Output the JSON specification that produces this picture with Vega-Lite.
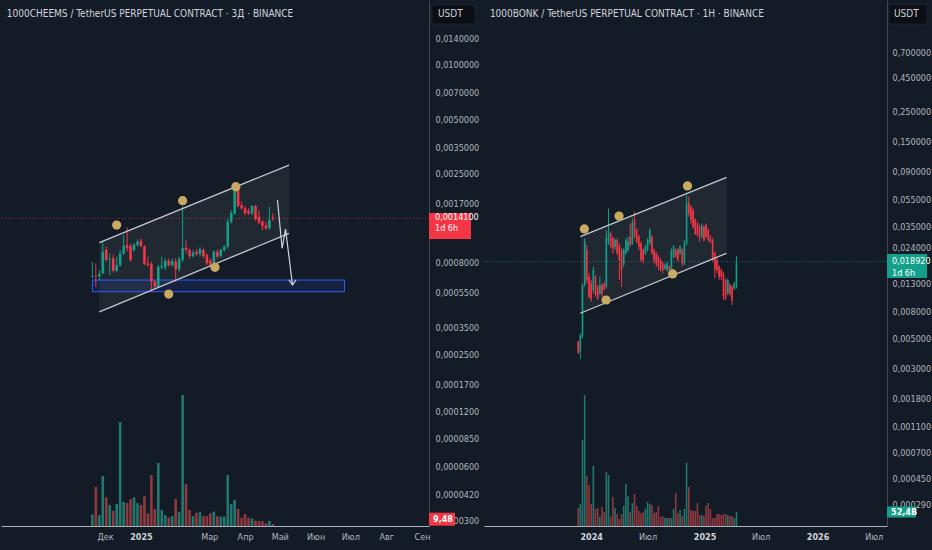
{
  "$schema": "https://vega.github.io/schema/vega-lite/v6.json",
  "background": "#131b26",
  "padding": 0,
  "spacing": 0,
  "config": {
    "view": {"stroke": null},
    "axis": {"labelColor": "#b2b5be", "labelFont": "Liberation Sans Narrow, DejaVu Sans Condensed, Roboto, sans-serif", "labelFontSize": 9, "grid": false, "ticks": false, "labelOverlap": false, "labelFlush": false}
  },
  "datasets": {
    "cheems": [
      {"date":"2024-11-20","o":0.000671,"h":0.000812,"l":0.000657,"c":0.000676,"v":55,"dir":"up"},
      {"date":"2024-11-23","o":0.000676,"h":0.000795,"l":0.000590,"c":0.000671,"v":185,"dir":"down"},
      {"date":"2024-11-26","o":0.000676,"h":0.000731,"l":0.000643,"c":0.000694,"v":52,"dir":"up"},
      {"date":"2024-11-29","o":0.000700,"h":0.001048,"l":0.000694,"c":0.000923,"v":237,"dir":"up"},
      {"date":"2024-12-02","o":0.000943,"h":0.000984,"l":0.000812,"c":0.000830,"v":136,"dir":"down"},
      {"date":"2024-12-05","o":0.000830,"h":0.000903,"l":0.000685,"c":0.000837,"v":100,"dir":"up"},
      {"date":"2024-12-08","o":0.000848,"h":0.000884,"l":0.000706,"c":0.000724,"v":71,"dir":"down"},
      {"date":"2024-12-11","o":0.000724,"h":0.000866,"l":0.000715,"c":0.000778,"v":104,"dir":"up"},
      {"date":"2024-12-14","o":0.000778,"h":0.000943,"l":0.000762,"c":0.000903,"v":493,"dir":"up"},
      {"date":"2024-12-17","o":0.000903,"h":0.001141,"l":0.000884,"c":0.000996,"v":114,"dir":"up"},
      {"date":"2024-12-20","o":0.001005,"h":0.001258,"l":0.000923,"c":0.000963,"v":109,"dir":"down"},
      {"date":"2024-12-23","o":0.000992,"h":0.001017,"l":0.000812,"c":0.000830,"v":127,"dir":"down"},
      {"date":"2024-12-26","o":0.000943,"h":0.001034,"l":0.000923,"c":0.001013,"v":136,"dir":"up"},
      {"date":"2024-12-29","o":0.001005,"h":0.001080,"l":0.000984,"c":0.001048,"v":108,"dir":"up"},
      {"date":"2025-01-01","o":0.001062,"h":0.001094,"l":0.000975,"c":0.000992,"v":100,"dir":"down"},
      {"date":"2025-01-04","o":0.000984,"h":0.001005,"l":0.000778,"c":0.000788,"v":142,"dir":"down"},
      {"date":"2025-01-07","o":0.000795,"h":0.000866,"l":0.000762,"c":0.000778,"v":60,"dir":"down"},
      {"date":"2025-01-10","o":0.000788,"h":0.000812,"l":0.000566,"c":0.000630,"v":242,"dir":"down"},
      {"date":"2025-01-13","o":0.000630,"h":0.000643,"l":0.000571,"c":0.000590,"v":81,"dir":"down"},
      {"date":"2025-01-16","o":0.000590,"h":0.000778,"l":0.000585,"c":0.000762,"v":299,"dir":"up"},
      {"date":"2025-01-19","o":0.000755,"h":0.000866,"l":0.000737,"c":0.000768,"v":76,"dir":"up"},
      {"date":"2025-01-22","o":0.000755,"h":0.000848,"l":0.000731,"c":0.000823,"v":52,"dir":"up"},
      {"date":"2025-01-25","o":0.000823,"h":0.000848,"l":0.000762,"c":0.000778,"v":41,"dir":"down"},
      {"date":"2025-01-28","o":0.000778,"h":0.000848,"l":0.000762,"c":0.000820,"v":47,"dir":"up"},
      {"date":"2025-01-31","o":0.000812,"h":0.000848,"l":0.000630,"c":0.000737,"v":128,"dir":"down"},
      {"date":"2025-02-03","o":0.000737,"h":0.000866,"l":0.000715,"c":0.000837,"v":68,"dir":"up"},
      {"date":"2025-02-06","o":0.000830,"h":0.001652,"l":0.000812,"c":0.000963,"v":621,"dir":"up"},
      {"date":"2025-02-09","o":0.000971,"h":0.001071,"l":0.000903,"c":0.000943,"v":199,"dir":"down"},
      {"date":"2025-02-12","o":0.000943,"h":0.000963,"l":0.000848,"c":0.000873,"v":76,"dir":"down"},
      {"date":"2025-02-15","o":0.000873,"h":0.000943,"l":0.000858,"c":0.000911,"v":47,"dir":"up"},
      {"date":"2025-02-18","o":0.000923,"h":0.000951,"l":0.000873,"c":0.000896,"v":63,"dir":"down"},
      {"date":"2025-02-21","o":0.000896,"h":0.000975,"l":0.000866,"c":0.000951,"v":66,"dir":"up"},
      {"date":"2025-02-24","o":0.000943,"h":0.000963,"l":0.000848,"c":0.000873,"v":47,"dir":"down"},
      {"date":"2025-02-27","o":0.000884,"h":0.000903,"l":0.000778,"c":0.000795,"v":47,"dir":"down"},
      {"date":"2025-03-02","o":0.000823,"h":0.000848,"l":0.000762,"c":0.000778,"v":60,"dir":"down"},
      {"date":"2025-03-05","o":0.000795,"h":0.000943,"l":0.000778,"c":0.000923,"v":68,"dir":"up"},
      {"date":"2025-03-08","o":0.000923,"h":0.000951,"l":0.000848,"c":0.000866,"v":47,"dir":"down"},
      {"date":"2025-03-11","o":0.000873,"h":0.000963,"l":0.000858,"c":0.000943,"v":44,"dir":"up"},
      {"date":"2025-03-14","o":0.000943,"h":0.001005,"l":0.000923,"c":0.000984,"v":45,"dir":"up"},
      {"date":"2025-03-17","o":0.000984,"h":0.001412,"l":0.000963,"c":0.001353,"v":242,"dir":"up"},
      {"date":"2025-03-20","o":0.001353,"h":0.001570,"l":0.001324,"c":0.001518,"v":104,"dir":"up"},
      {"date":"2025-03-23","o":0.001505,"h":0.002114,"l":0.001473,"c":0.002043,"v":123,"dir":"up"},
      {"date":"2025-03-26","o":0.002026,"h":0.002206,"l":0.001625,"c":0.001652,"v":81,"dir":"down"},
      {"date":"2025-03-29","o":0.001673,"h":0.001746,"l":0.001570,"c":0.001604,"v":39,"dir":"down"},
      {"date":"2025-04-01","o":0.001604,"h":0.001652,"l":0.001473,"c":0.001505,"v":57,"dir":"down"},
      {"date":"2025-04-04","o":0.001557,"h":0.001604,"l":0.001473,"c":0.001505,"v":39,"dir":"down"},
      {"date":"2025-04-07","o":0.001505,"h":0.001673,"l":0.001473,"c":0.001652,"v":36,"dir":"up"},
      {"date":"2025-04-10","o":0.001652,"h":0.001673,"l":0.001370,"c":0.001394,"v":25,"dir":"down"},
      {"date":"2025-04-13","o":0.001442,"h":0.001570,"l":0.001313,"c":0.001335,"v":24,"dir":"down"},
      {"date":"2025-04-16","o":0.001353,"h":0.001382,"l":0.001216,"c":0.001280,"v":24,"dir":"down"},
      {"date":"2025-04-19","o":0.001296,"h":0.001353,"l":0.001216,"c":0.001243,"v":13,"dir":"down"},
      {"date":"2025-04-22","o":0.001243,"h":0.001638,"l":0.001227,"c":0.001382,"v":24,"dir":"up"},
      {"date":"2025-04-25","o":0.001430,"h":0.001505,"l":0.001370,"c":0.001410,"v":9.48,"dir":"down"}
    ],
    "bonk": [
      {"date":"2023-11-20","o":0.00477,"h":0.00485,"l":0.00386,"c":0.00394,"v":67,"dir":"down"},
      {"date":"2023-11-27","o":0.00401,"h":0.0055,"l":0.00352,"c":0.00534,"v":82,"dir":"up"},
      {"date":"2023-12-04","o":0.0052,"h":0.01302,"l":0.00505,"c":0.01265,"v":322,"dir":"up"},
      {"date":"2023-12-11","o":0.01265,"h":0.0283,"l":0.01229,"c":0.02672,"v":490,"dir":"up"},
      {"date":"2023-12-18","o":0.02314,"h":0.02522,"l":0.01302,"c":0.01379,"v":187,"dir":"down"},
      {"date":"2023-12-25","o":0.01461,"h":0.01547,"l":0.01005,"c":0.01035,"v":153,"dir":"down"},
      {"date":"2024-01-01","o":0.01302,"h":0.01379,"l":0.00949,"c":0.01005,"v":82,"dir":"down"},
      {"date":"2024-01-08","o":0.01161,"h":0.01736,"l":0.01096,"c":0.01639,"v":225,"dir":"up"},
      {"date":"2024-01-15","o":0.01461,"h":0.01503,"l":0.01035,"c":0.01065,"v":64,"dir":"down"},
      {"date":"2024-01-22","o":0.01229,"h":0.01265,"l":0.00977,"c":0.01005,"v":67,"dir":"down"},
      {"date":"2024-01-29","o":0.01096,"h":0.01461,"l":0.01065,"c":0.01265,"v":34,"dir":"up"},
      {"date":"2024-02-05","o":0.01265,"h":0.01302,"l":0.01035,"c":0.01084,"v":71,"dir":"down"},
      {"date":"2024-02-12","o":0.01287,"h":0.0134,"l":0.01148,"c":0.01175,"v":52,"dir":"down"},
      {"date":"2024-02-19","o":0.01229,"h":0.03267,"l":0.01195,"c":0.0283,"v":202,"dir":"up"},
      {"date":"2024-02-26","o":0.02672,"h":0.04748,"l":0.02522,"c":0.03085,"v":191,"dir":"up"},
      {"date":"2024-03-04","o":0.03085,"h":0.03175,"l":0.02381,"c":0.02451,"v":34,"dir":"down"},
      {"date":"2024-03-11","o":0.0283,"h":0.02912,"l":0.02185,"c":0.02381,"v":109,"dir":"down"},
      {"date":"2024-03-18","o":0.02451,"h":0.0283,"l":0.02314,"c":0.0275,"v":67,"dir":"up"},
      {"date":"2024-03-25","o":0.0275,"h":0.0283,"l":0.02123,"c":0.02185,"v":45,"dir":"down"},
      {"date":"2024-04-01","o":0.02522,"h":0.02596,"l":0.01379,"c":0.01947,"v":26,"dir":"down"},
      {"date":"2024-04-08","o":0.02314,"h":0.02381,"l":0.01229,"c":0.01639,"v":45,"dir":"down"},
      {"date":"2024-04-15","o":0.01838,"h":0.02381,"l":0.01736,"c":0.02314,"v":75,"dir":"up"},
      {"date":"2024-04-22","o":0.02185,"h":0.0283,"l":0.02123,"c":0.0275,"v":157,"dir":"up"},
      {"date":"2024-04-29","o":0.02314,"h":0.02912,"l":0.02248,"c":0.02672,"v":112,"dir":"up"},
      {"date":"2024-05-06","o":0.02912,"h":0.03665,"l":0.02451,"c":0.02522,"v":52,"dir":"down"},
      {"date":"2024-05-13","o":0.02596,"h":0.03996,"l":0.02522,"c":0.03665,"v":86,"dir":"up"},
      {"date":"2024-05-20","o":0.03882,"h":0.04482,"l":0.0283,"c":0.02912,"v":120,"dir":"down"},
      {"date":"2024-05-27","o":0.03267,"h":0.03363,"l":0.02596,"c":0.02672,"v":75,"dir":"down"},
      {"date":"2024-06-03","o":0.02912,"h":0.02997,"l":0.02314,"c":0.02451,"v":56,"dir":"down"},
      {"date":"2024-06-10","o":0.02596,"h":0.02672,"l":0.01892,"c":0.01947,"v":49,"dir":"down"},
      {"date":"2024-06-17","o":0.02314,"h":0.02381,"l":0.01838,"c":0.01947,"v":52,"dir":"down"},
      {"date":"2024-06-24","o":0.02185,"h":0.02522,"l":0.02123,"c":0.02451,"v":64,"dir":"up"},
      {"date":"2024-07-01","o":0.02314,"h":0.0283,"l":0.02248,"c":0.0275,"v":90,"dir":"up"},
      {"date":"2024-07-08","o":0.02596,"h":0.03363,"l":0.02522,"c":0.03267,"v":82,"dir":"up"},
      {"date":"2024-07-15","o":0.02912,"h":0.02997,"l":0.02123,"c":0.02185,"v":79,"dir":"down"},
      {"date":"2024-07-22","o":0.02314,"h":0.02381,"l":0.01838,"c":0.01947,"v":49,"dir":"down"},
      {"date":"2024-07-29","o":0.02185,"h":0.02248,"l":0.01736,"c":0.01838,"v":52,"dir":"down"},
      {"date":"2024-08-05","o":0.02063,"h":0.02123,"l":0.01639,"c":0.01736,"v":75,"dir":"down"},
      {"date":"2024-08-12","o":0.01947,"h":0.02004,"l":0.01592,"c":0.01639,"v":34,"dir":"down"},
      {"date":"2024-08-19","o":0.01838,"h":0.01892,"l":0.01547,"c":0.01639,"v":37,"dir":"down"},
      {"date":"2024-08-26","o":0.01686,"h":0.01838,"l":0.01639,"c":0.01786,"v":30,"dir":"up"},
      {"date":"2024-09-02","o":0.01639,"h":0.01892,"l":0.01592,"c":0.01838,"v":30,"dir":"up"},
      {"date":"2024-09-09","o":0.01736,"h":0.01786,"l":0.01592,"c":0.01639,"v":30,"dir":"down"},
      {"date":"2024-09-16","o":0.01639,"h":0.02381,"l":0.01592,"c":0.02314,"v":30,"dir":"up"},
      {"date":"2024-09-23","o":0.02063,"h":0.02522,"l":0.02004,"c":0.02451,"v":64,"dir":"up"},
      {"date":"2024-09-30","o":0.02314,"h":0.02381,"l":0.02004,"c":0.02063,"v":124,"dir":"down"},
      {"date":"2024-10-07","o":0.02314,"h":0.02381,"l":0.01892,"c":0.01947,"v":49,"dir":"down"},
      {"date":"2024-10-14","o":0.02185,"h":0.02522,"l":0.02123,"c":0.02451,"v":60,"dir":"up"},
      {"date":"2024-10-21","o":0.02314,"h":0.02381,"l":0.01736,"c":0.01838,"v":37,"dir":"down"},
      {"date":"2024-10-28","o":0.01838,"h":0.0275,"l":0.01786,"c":0.02596,"v":64,"dir":"up"},
      {"date":"2024-11-04","o":0.02596,"h":0.05975,"l":0.02522,"c":0.05175,"v":236,"dir":"up"},
      {"date":"2024-11-11","o":0.05175,"h":0.05806,"l":0.04112,"c":0.04355,"v":146,"dir":"down"},
      {"date":"2024-11-18","o":0.04886,"h":0.05029,"l":0.03665,"c":0.03882,"v":60,"dir":"down"},
      {"date":"2024-11-25","o":0.04613,"h":0.04748,"l":0.03363,"c":0.03461,"v":56,"dir":"down"},
      {"date":"2024-12-02","o":0.03882,"h":0.03996,"l":0.02997,"c":0.03085,"v":56,"dir":"down"},
      {"date":"2024-12-09","o":0.03665,"h":0.03772,"l":0.02912,"c":0.02997,"v":86,"dir":"down"},
      {"date":"2024-12-16","o":0.03461,"h":0.03562,"l":0.02672,"c":0.02912,"v":41,"dir":"down"},
      {"date":"2024-12-23","o":0.02912,"h":0.03665,"l":0.0283,"c":0.03461,"v":41,"dir":"up"},
      {"date":"2024-12-30","o":0.03461,"h":0.03562,"l":0.02672,"c":0.0275,"v":37,"dir":"down"},
      {"date":"2025-01-06","o":0.03562,"h":0.03665,"l":0.0283,"c":0.02912,"v":75,"dir":"down"},
      {"date":"2025-01-13","o":0.03267,"h":0.03363,"l":0.02672,"c":0.0275,"v":86,"dir":"down"},
      {"date":"2025-01-20","o":0.0283,"h":0.02997,"l":0.02596,"c":0.02672,"v":64,"dir":"down"},
      {"date":"2025-01-27","o":0.0275,"h":0.0283,"l":0.01892,"c":0.01947,"v":30,"dir":"down"},
      {"date":"2025-02-03","o":0.02185,"h":0.02248,"l":0.01419,"c":0.01639,"v":30,"dir":"down"},
      {"date":"2025-02-10","o":0.01947,"h":0.02004,"l":0.01547,"c":0.01639,"v":45,"dir":"down"},
      {"date":"2025-02-17","o":0.01736,"h":0.01786,"l":0.01379,"c":0.01461,"v":45,"dir":"down"},
      {"date":"2025-02-24","o":0.01639,"h":0.01686,"l":0.01379,"c":0.01461,"v":41,"dir":"down"},
      {"date":"2025-03-03","o":0.01547,"h":0.01592,"l":0.00977,"c":0.01035,"v":45,"dir":"down"},
      {"date":"2025-03-10","o":0.01379,"h":0.01419,"l":0.00977,"c":0.01005,"v":45,"dir":"down"},
      {"date":"2025-03-17","o":0.01096,"h":0.01419,"l":0.01065,"c":0.01379,"v":41,"dir":"up"},
      {"date":"2025-03-24","o":0.01265,"h":0.01302,"l":0.01035,"c":0.01096,"v":37,"dir":"down"},
      {"date":"2025-03-31","o":0.01229,"h":0.01265,"l":0.00896,"c":0.00977,"v":37,"dir":"down"},
      {"date":"2025-04-07","o":0.01195,"h":0.0134,"l":0.01161,"c":0.01302,"v":30,"dir":"up"},
      {"date":"2025-04-14","o":0.01229,"h":0.0209,"l":0.01195,"c":0.01892,"v":52.4,"dir":"up"}
    ]
  },
  "hconcat": [
    {
      "width": 428,
      "height": 526,
      "resolve": {"scale": {"y": "independent"}},
      "layer": [
        {
          "layer": [
            {
              "data": {"name": "cheems"},
              "mark": {"type": "bar", "size": 2.6},
              "encoding": {
                "x": {"field": "date", "type": "temporal", "title": null, "scale": {"type": "utc", "padding": 0, "domain": [{"year": 2024, "month": 9, "date": 2, "utc": true}, {"year": 2025, "month": 9, "date": 7, "utc": true}]}},
                "y": {"field": "v", "type": "quantitative", "title": null, "axis": null, "scale": {"domain": [0, 2493]}},
                "fill": {"field": "dir", "type": "nominal", "legend": null, "scale": {"domain": ["up", "down"], "range": ["#22786e", "#8e3a40"]}}
              }
            },
            {
              "data": {"values": [{"date": "2025-09-07", "v": 9.48, "t": "9,48"}]},
              "mark": {"type": "point", "shape": "M0,-1.13H2.6V0.17H0Z", "size": 400, "filled": true, "fill": "#f23645", "opacity": 1, "strokeWidth": 0},
              "encoding": {
                "x": {"field": "date", "type": "temporal", "title": null},
                "y": {"field": "v", "type": "quantitative", "title": null, "axis": null, "scale": {"domain": [0, 2493]}}
              }
            },
            {
              "data": {"values": [{"date": "2025-09-07", "v": 9.48, "t": "9,48"}]},
              "mark": {"type": "text", "align": "left", "baseline": "middle", "dx": 4, "dy": -5, "color": "#ffffff", "fontSize": 9, "fontWeight": "bold", "font": "Liberation Sans Narrow, DejaVu Sans Condensed, Roboto, sans-serif"},
              "encoding": {
                "x": {"field": "date", "type": "temporal", "title": null},
                "y": {"field": "v", "type": "quantitative", "title": null, "axis": null, "scale": {"domain": [0, 2493]}},
                "text": {"field": "t"}
              }
            }
          ]
        },
        {
          "layer": [
            {
              "data": {"values": [{"date": "2024-11-26", "up": 0.001035, "lo": 0.000429}, {"date": "2025-05-09", "up": 0.002787, "lo": 0.001166}]},
              "mark": {"type": "area", "color": "#ffffff", "opacity": 0.06},
              "encoding": {
                "x": {"field": "date", "type": "temporal", "title": null},
                "y": {"field": "up", "type": "quantitative", "title": null, "scale": {"type": "log", "zero": false, "domain": [0.00002795, 0.02285]}},
                "y2": {"field": "lo"}
              }
            },
            {
              "data": {"values": [{"d1": "2024-11-20", "d2": "2025-06-26", "p1": 0.000554, "p2": 0.000643}]},
              "mark": {"type": "rect", "fill": "#2962ff", "fillOpacity": 0.12, "stroke": "#2962ff", "strokeWidth": 1},
              "encoding": {
                "x": {"field": "d1", "type": "temporal", "title": null},
                "x2": {"field": "d2"},
                "y": {"field": "p1", "type": "quantitative", "title": null, "scale": {"type": "log", "zero": false, "domain": [0.00002795, 0.02285]}},
                "y2": {"field": "p2"}
              }
            },
            {
              "data": {"values": [{"price": 0.00141}]},
              "mark": {"type": "rule", "color": "#f23645", "opacity": 0.6, "strokeDash": [1, 2], "strokeWidth": 1},
              "encoding": {
                "y": {"field": "price", "type": "quantitative", "title": null, "scale": {"type": "log", "zero": false, "domain": [0.00002795, 0.02285]}}
              }
            },
            {
              "data": {"name": "cheems"},
              "mark": {"type": "rule", "strokeWidth": 1},
              "encoding": {
                "x": {"field": "date", "type": "temporal", "title": null},
                "y": {"field": "l", "type": "quantitative", "title": null, "scale": {"type": "log", "zero": false, "domain": [0.00002795, 0.02285]}},
                "y2": {"field": "h"},
                "color": {"field": "dir", "type": "nominal", "legend": null, "scale": {"domain": ["up", "down"], "range": ["#12a08a", "#f23645"]}}
              }
            },
            {
              "data": {"name": "cheems"},
              "mark": {"type": "bar", "size": 2.6},
              "encoding": {
                "x": {"field": "date", "type": "temporal", "title": null,
                  "axis": {"orient": "bottom", "values": [{"year": 2024, "month": 12, "date": 1, "utc": true}, {"year": 2025, "month": 1, "date": 1, "utc": true}, {"year": 2025, "month": 3, "date": 1, "utc": true}, {"year": 2025, "month": 4, "date": 1, "utc": true}, {"year": 2025, "month": 5, "date": 1, "utc": true}, {"year": 2025, "month": 6, "date": 1, "utc": true}, {"year": 2025, "month": 7, "date": 1, "utc": true}, {"year": 2025, "month": 8, "date": 1, "utc": true}, {"year": 2025, "month": 9, "date": 1, "utc": true}],
                    "labelExpr": "utcmonth(datum.value) == 0 ? utcFormat(datum.value, '%Y') : ['Янв','Фев','Мар','Апр','Май','Июн','Июл','Авг','Сен','Окт','Ноя','Дек'][utcmonth(datum.value)]",
                    "labelFontWeight": {"condition": {"test": "utcmonth(datum.value) == 0", "value": "bold"}, "value": "normal"},
                    "labelColor": {"condition": {"test": "utcmonth(datum.value) == 0", "value": "#d1d4dc"}, "value": "#b2b5be"},
                    "domain": true, "domainColor": "#aeb1ba", "ticks": false, "labelPadding": 6, "minExtent": 24, "maxExtent": 24}},
                "y": {"field": "o", "type": "quantitative", "title": null, "scale": {"type": "log", "zero": false, "domain": [0.00002795, 0.02285]},
                  "axis": {"orient": "right", "values": [0.014, 0.01, 0.007, 0.005, 0.0035, 0.0025, 0.0017, 0.0008, 0.00055, 0.00035, 0.00025, 0.00017, 0.00012, 0.000085, 0.00006, 0.000042, 0.00003],
                    "labelExpr": "replace(format(datum.value, '.7f'), '.', ',')",
                    "domain": true, "domainColor": "#434651", "ticks": false, "labelPadding": 6, "minExtent": 54, "maxExtent": 54}},
                "y2": {"field": "c"},
                "color": {"field": "dir", "type": "nominal", "legend": null}
              }
            },
            {
              "data": {"values": [
                {"date": "2024-11-26", "price": 0.001035, "line": "upper"}, {"date": "2025-05-09", "price": 0.002787, "line": "upper"},
                {"date": "2024-11-26", "price": 0.000429, "line": "lower"}, {"date": "2025-05-09", "price": 0.001166, "line": "lower"}
              ]},
              "mark": {"type": "line", "color": "#c4c7ce", "strokeWidth": 1.3},
              "encoding": {
                "x": {"field": "date", "type": "temporal", "title": null},
                "y": {"field": "price", "type": "quantitative", "title": null, "scale": {"type": "log", "zero": false, "domain": [0.00002795, 0.02285]}},
                "detail": {"field": "line"}
              }
            },
            {
              "data": {"values": [
                {"date": "2025-04-29", "price": 0.001784, "seg": "a", "ord": 1},
                {"date": "2025-05-03", "price": 0.000964, "seg": "a", "ord": 2},
                {"date": "2025-05-06", "price": 0.001232, "seg": "a", "ord": 3},
                {"date": "2025-05-12", "price": 0.000604, "seg": "a", "ord": 4},
                {"date": "2025-05-09", "price": 0.000645, "seg": "h", "ord": 1},
                {"date": "2025-05-12", "price": 0.000604, "seg": "h", "ord": 2},
                {"date": "2025-05-15", "price": 0.000645, "seg": "h", "ord": 3}
              ]},
              "mark": {"type": "line", "color": "#d1d4dc", "strokeWidth": 1.2},
              "encoding": {
                "x": {"field": "date", "type": "temporal", "title": null},
                "y": {"field": "price", "type": "quantitative", "title": null, "scale": {"type": "log", "zero": false, "domain": [0.00002795, 0.02285]}},
                "detail": {"field": "seg"},
                "order": {"field": "ord", "type": "quantitative"}
              }
            },
            {
              "data": {"values": [
                {"date": "2024-12-11", "price": 0.001297}, {"date": "2025-02-06", "price": 0.001768}, {"date": "2025-03-24", "price": 0.002114},
                {"date": "2025-03-06", "price": 0.000756}, {"date": "2025-01-25", "price": 0.000538}
              ]},
              "mark": {"type": "point", "shape": "circle", "size": 85, "filled": true, "fill": "#caa962", "opacity": 1, "strokeWidth": 0},
              "encoding": {
                "x": {"field": "date", "type": "temporal", "title": null},
                "y": {"field": "price", "type": "quantitative", "title": null, "scale": {"type": "log", "zero": false, "domain": [0.00002795, 0.02285]}}
              }
            },
            {
              "data": {"values": [{"date": "2025-09-07", "price": 0.00141}]},
              "mark": {"type": "point", "shape": "M0,-0.55H4.2V2.05H0Z", "size": 400, "filled": true, "fill": "#f23645", "opacity": 1, "strokeWidth": 0},
              "encoding": {
                "x": {"field": "date", "type": "temporal", "title": null},
                "y": {"field": "price", "type": "quantitative", "title": null, "scale": {"type": "log", "zero": false, "domain": [0.00002795, 0.02285]}}
              }
            },
            {
              "data": {"values": [{"date": "2025-09-07", "price": 0.00141, "t": "0,0014100\n1d 6h"}]},
              "mark": {"type": "text", "align": "left", "baseline": "top", "dx": 6, "dy": -5, "lineBreak": "\n", "lineHeight": 11, "color": "#ffffff", "fontSize": 9, "font": "Liberation Sans Narrow, DejaVu Sans Condensed, Roboto, sans-serif"},
              "encoding": {
                "x": {"field": "date", "type": "temporal", "title": null},
                "y": {"field": "price", "type": "quantitative", "title": null, "scale": {"type": "log", "zero": false, "domain": [0.00002795, 0.02285]}},
                "text": {"field": "t"}
              }
            },
            {
              "data": {"values": [{"date": "2025-09-07", "price": 0.01911}]},
              "mark": {"type": "point", "shape": "M0.3,-0.9H4.6V1.0H0.3Z", "size": 400, "filled": true, "fill": "#0b0e14", "opacity": 1, "stroke": "#2a2e39", "strokeWidth": 0.6},
              "encoding": {
                "x": {"field": "date", "type": "temporal", "title": null},
                "y": {"field": "price", "type": "quantitative", "title": null, "scale": {"type": "log", "zero": false, "domain": [0.00002795, 0.02285]}}
              }
            },
            {
              "data": {"values": [{"date": "2025-09-07", "price": 0.01911, "t": "USDT"}]},
              "mark": {"type": "text", "align": "left", "baseline": "middle", "dx": 9, "color": "#d1d4dc", "fontSize": 10, "font": "Liberation Sans Narrow, DejaVu Sans Condensed, Roboto, sans-serif"},
              "encoding": {
                "x": {"field": "date", "type": "temporal", "title": null},
                "y": {"field": "price", "type": "quantitative", "title": null, "scale": {"type": "log", "zero": false, "domain": [0.00002795, 0.02285]}},
                "text": {"field": "t"}
              }
            },
            {
              "data": {"values": [{"date": "2024-09-07", "price": 0.01911, "t": "1000CHEEMS / TetherUS PERPETUAL CONTRACT · 3Д · BINANCE"}]},
              "mark": {"type": "text", "align": "left", "baseline": "middle", "color": "#d1d4dc", "fontSize": 10, "font": "Liberation Sans Narrow, DejaVu Sans Condensed, Roboto, sans-serif"},
              "encoding": {
                "x": {"field": "date", "type": "temporal", "title": null},
                "y": {"field": "price", "type": "quantitative", "title": null, "scale": {"type": "log", "zero": false, "domain": [0.00002795, 0.02285]}},
                "text": {"field": "t"}
              }
            }
          ]
        }
      ]
    },
    {
      "width": 403,
      "height": 526,
      "resolve": {"scale": {"y": "independent"}},
      "layer": [
        {
          "layer": [
            {
              "data": {"name": "bonk"},
              "mark": {"type": "bar", "size": 1.6},
              "encoding": {
                "x": {"field": "date", "type": "temporal", "title": null, "scale": {"type": "utc", "padding": 0, "domain": [{"year": 2023, "month": 1, "date": 20, "utc": true}, {"year": 2026, "month": 8, "date": 13, "utc": true}]}},
                "y": {"field": "v", "type": "quantitative", "title": null, "axis": null, "scale": {"domain": [0, 1969]}},
                "fill": {"field": "dir", "type": "nominal", "legend": null}
              }
            },
            {
              "data": {"values": [{"date": "2026-08-13", "v": 52.4, "t": "52,4B"}]},
              "mark": {"type": "point", "shape": "M0,-0.55H2.9V0.55H0Z", "size": 400, "filled": true, "fill": "#12a08a", "opacity": 1, "strokeWidth": 0},
              "encoding": {
                "x": {"field": "date", "type": "temporal", "title": null},
                "y": {"field": "v", "type": "quantitative", "title": null, "axis": null, "scale": {"domain": [0, 1969]}}
              }
            },
            {
              "data": {"values": [{"date": "2026-08-13", "v": 52.4, "t": "52,4B"}]},
              "mark": {"type": "text", "align": "left", "baseline": "middle", "dx": 4, "color": "#ffffff", "fontSize": 9, "fontWeight": "bold", "font": "Liberation Sans Narrow, DejaVu Sans Condensed, Roboto, sans-serif"},
              "encoding": {
                "x": {"field": "date", "type": "temporal", "title": null},
                "y": {"field": "v", "type": "quantitative", "title": null, "axis": null, "scale": {"domain": [0, 1969]}},
                "text": {"field": "t"}
              }
            }
          ]
        },
        {
          "layer": [
            {
              "data": {"values": [{"date": "2023-11-27", "up": 0.02912, "lo": 0.00778}, {"date": "2025-03-13", "up": 0.0810, "lo": 0.02187}]},
              "mark": {"type": "area", "color": "#ffffff", "opacity": 0.06},
              "encoding": {
                "x": {"field": "date", "type": "temporal", "title": null},
                "y": {"field": "up", "type": "quantitative", "title": null, "scale": {"type": "log", "zero": false, "domain": [0.0001989, 1.7208]}},
                "y2": {"field": "lo"}
              }
            },
            {
              "data": {"values": [{"price": 0.01892}]},
              "mark": {"type": "rule", "color": "#12a08a", "opacity": 0.6, "strokeDash": [1, 2], "strokeWidth": 1},
              "encoding": {
                "y": {"field": "price", "type": "quantitative", "title": null, "scale": {"type": "log", "zero": false, "domain": [0.0001989, 1.7208]}}
              }
            },
            {
              "data": {"name": "bonk"},
              "mark": {"type": "rule", "strokeWidth": 1},
              "encoding": {
                "x": {"field": "date", "type": "temporal", "title": null},
                "y": {"field": "l", "type": "quantitative", "title": null, "scale": {"type": "log", "zero": false, "domain": [0.0001989, 1.7208]}},
                "y2": {"field": "h"},
                "color": {"field": "dir", "type": "nominal", "legend": null}
              }
            },
            {
              "data": {"name": "bonk"},
              "mark": {"type": "bar", "size": 1.6},
              "encoding": {
                "x": {"field": "date", "type": "temporal", "title": null,
                  "axis": {"orient": "bottom", "values": [{"year": 2024, "month": 1, "date": 1, "utc": true}, {"year": 2024, "month": 7, "date": 1, "utc": true}, {"year": 2025, "month": 1, "date": 1, "utc": true}, {"year": 2025, "month": 7, "date": 1, "utc": true}, {"year": 2026, "month": 1, "date": 1, "utc": true}, {"year": 2026, "month": 7, "date": 1, "utc": true}],
                    "labelExpr": "utcmonth(datum.value) == 0 ? utcFormat(datum.value, '%Y') : ['Янв','Фев','Мар','Апр','Май','Июн','Июл','Авг','Сен','Окт','Ноя','Дек'][utcmonth(datum.value)]",
                    "labelFontWeight": {"condition": {"test": "utcmonth(datum.value) == 0", "value": "bold"}, "value": "normal"},
                    "labelColor": {"condition": {"test": "utcmonth(datum.value) == 0", "value": "#d1d4dc"}, "value": "#b2b5be"},
                    "domain": true, "domainColor": "#aeb1ba", "ticks": false, "labelPadding": 6, "minExtent": 24, "maxExtent": 24}},
                "y": {"field": "o", "type": "quantitative", "title": null, "scale": {"type": "log", "zero": false, "domain": [0.0001989, 1.7208]},
                  "axis": {"orient": "right", "values": [0.7, 0.45, 0.25, 0.15, 0.09, 0.055, 0.035, 0.024, 0.013, 0.008, 0.005, 0.003, 0.0018, 0.0011, 0.0007, 0.00045, 0.00029],
                    "labelExpr": "replace(format(datum.value, '.6f'), '.', ',')",
                    "domain": true, "domainColor": "#434651", "ticks": false, "labelPadding": 5, "minExtent": 47, "maxExtent": 47}},
                "y2": {"field": "c"},
                "color": {"field": "dir", "type": "nominal", "legend": null}
              }
            },
            {
              "data": {"values": [
                {"date": "2023-11-27", "price": 0.02912, "line": "upper"}, {"date": "2025-03-13", "price": 0.0810, "line": "upper"},
                {"date": "2023-11-27", "price": 0.00778, "line": "lower"}, {"date": "2025-03-13", "price": 0.02187, "line": "lower"}
              ]},
              "mark": {"type": "line", "color": "#c4c7ce", "strokeWidth": 1.3},
              "encoding": {
                "x": {"field": "date", "type": "temporal", "title": null},
                "y": {"field": "price", "type": "quantitative", "title": null, "scale": {"type": "log", "zero": false, "domain": [0.0001989, 1.7208]}},
                "detail": {"field": "line"}
              }
            },
            {
              "data": {"values": [
                {"date": "2023-12-10", "price": 0.03325}, {"date": "2024-03-31", "price": 0.04159}, {"date": "2024-11-07", "price": 0.06977},
                {"date": "2024-02-18", "price": 0.00978}, {"date": "2024-09-20", "price": 0.01531}
              ]},
              "mark": {"type": "point", "shape": "circle", "size": 85, "filled": true, "fill": "#caa962", "opacity": 1, "strokeWidth": 0},
              "encoding": {
                "x": {"field": "date", "type": "temporal", "title": null},
                "y": {"field": "price", "type": "quantitative", "title": null, "scale": {"type": "log", "zero": false, "domain": [0.0001989, 1.7208]}}
              }
            },
            {
              "data": {"values": [{"date": "2026-08-13", "price": 0.01892}]},
              "mark": {"type": "point", "shape": "M0,-0.77H4.0V1.63H0Z", "size": 400, "filled": true, "fill": "#12a08a", "opacity": 1, "strokeWidth": 0},
              "encoding": {
                "x": {"field": "date", "type": "temporal", "title": null},
                "y": {"field": "price", "type": "quantitative", "title": null, "scale": {"type": "log", "zero": false, "domain": [0.0001989, 1.7208]}}
              }
            },
            {
              "data": {"values": [{"date": "2026-08-13", "price": 0.01892, "t": "0,018920\n1d 6h"}]},
              "mark": {"type": "text", "align": "left", "baseline": "top", "dx": 5, "dy": -5, "lineBreak": "\n", "lineHeight": 12, "color": "#ffffff", "fontSize": 9, "font": "Liberation Sans Narrow, DejaVu Sans Condensed, Roboto, sans-serif"},
              "encoding": {
                "x": {"field": "date", "type": "temporal", "title": null},
                "y": {"field": "price", "type": "quantitative", "title": null, "scale": {"type": "log", "zero": false, "domain": [0.0001989, 1.7208]}},
                "text": {"field": "t"}
              }
            },
            {
              "data": {"values": [{"date": "2026-08-13", "price": 1.352}]},
              "mark": {"type": "point", "shape": "M0.2,-0.9H4.0V1.0H0.2Z", "size": 400, "filled": true, "fill": "#0b0e14", "opacity": 1, "stroke": "#2a2e39", "strokeWidth": 0.6},
              "encoding": {
                "x": {"field": "date", "type": "temporal", "title": null},
                "y": {"field": "price", "type": "quantitative", "title": null, "scale": {"type": "log", "zero": false, "domain": [0.0001989, 1.7208]}}
              }
            },
            {
              "data": {"values": [{"date": "2026-08-13", "price": 1.352, "t": "USDT"}]},
              "mark": {"type": "text", "align": "left", "baseline": "middle", "dx": 7, "color": "#d1d4dc", "fontSize": 10, "font": "Liberation Sans Narrow, DejaVu Sans Condensed, Roboto, sans-serif"},
              "encoding": {
                "x": {"field": "date", "type": "temporal", "title": null},
                "y": {"field": "price", "type": "quantitative", "title": null, "scale": {"type": "log", "zero": false, "domain": [0.0001989, 1.7208]}},
                "text": {"field": "t"}
              }
            },
            {
              "data": {"values": [{"date": "2023-02-08", "price": 1.352, "t": "1000BONK / TetherUS PERPETUAL CONTRACT · 1H · BINANCE"}]},
              "mark": {"type": "text", "align": "left", "baseline": "middle", "color": "#d1d4dc", "fontSize": 10, "font": "Liberation Sans Narrow, DejaVu Sans Condensed, Roboto, sans-serif"},
              "encoding": {
                "x": {"field": "date", "type": "temporal", "title": null},
                "y": {"field": "price", "type": "quantitative", "title": null, "scale": {"type": "log", "zero": false, "domain": [0.0001989, 1.7208]}},
                "text": {"field": "t"}
              }
            }
          ]
        }
      ]
    }
  ]
}
